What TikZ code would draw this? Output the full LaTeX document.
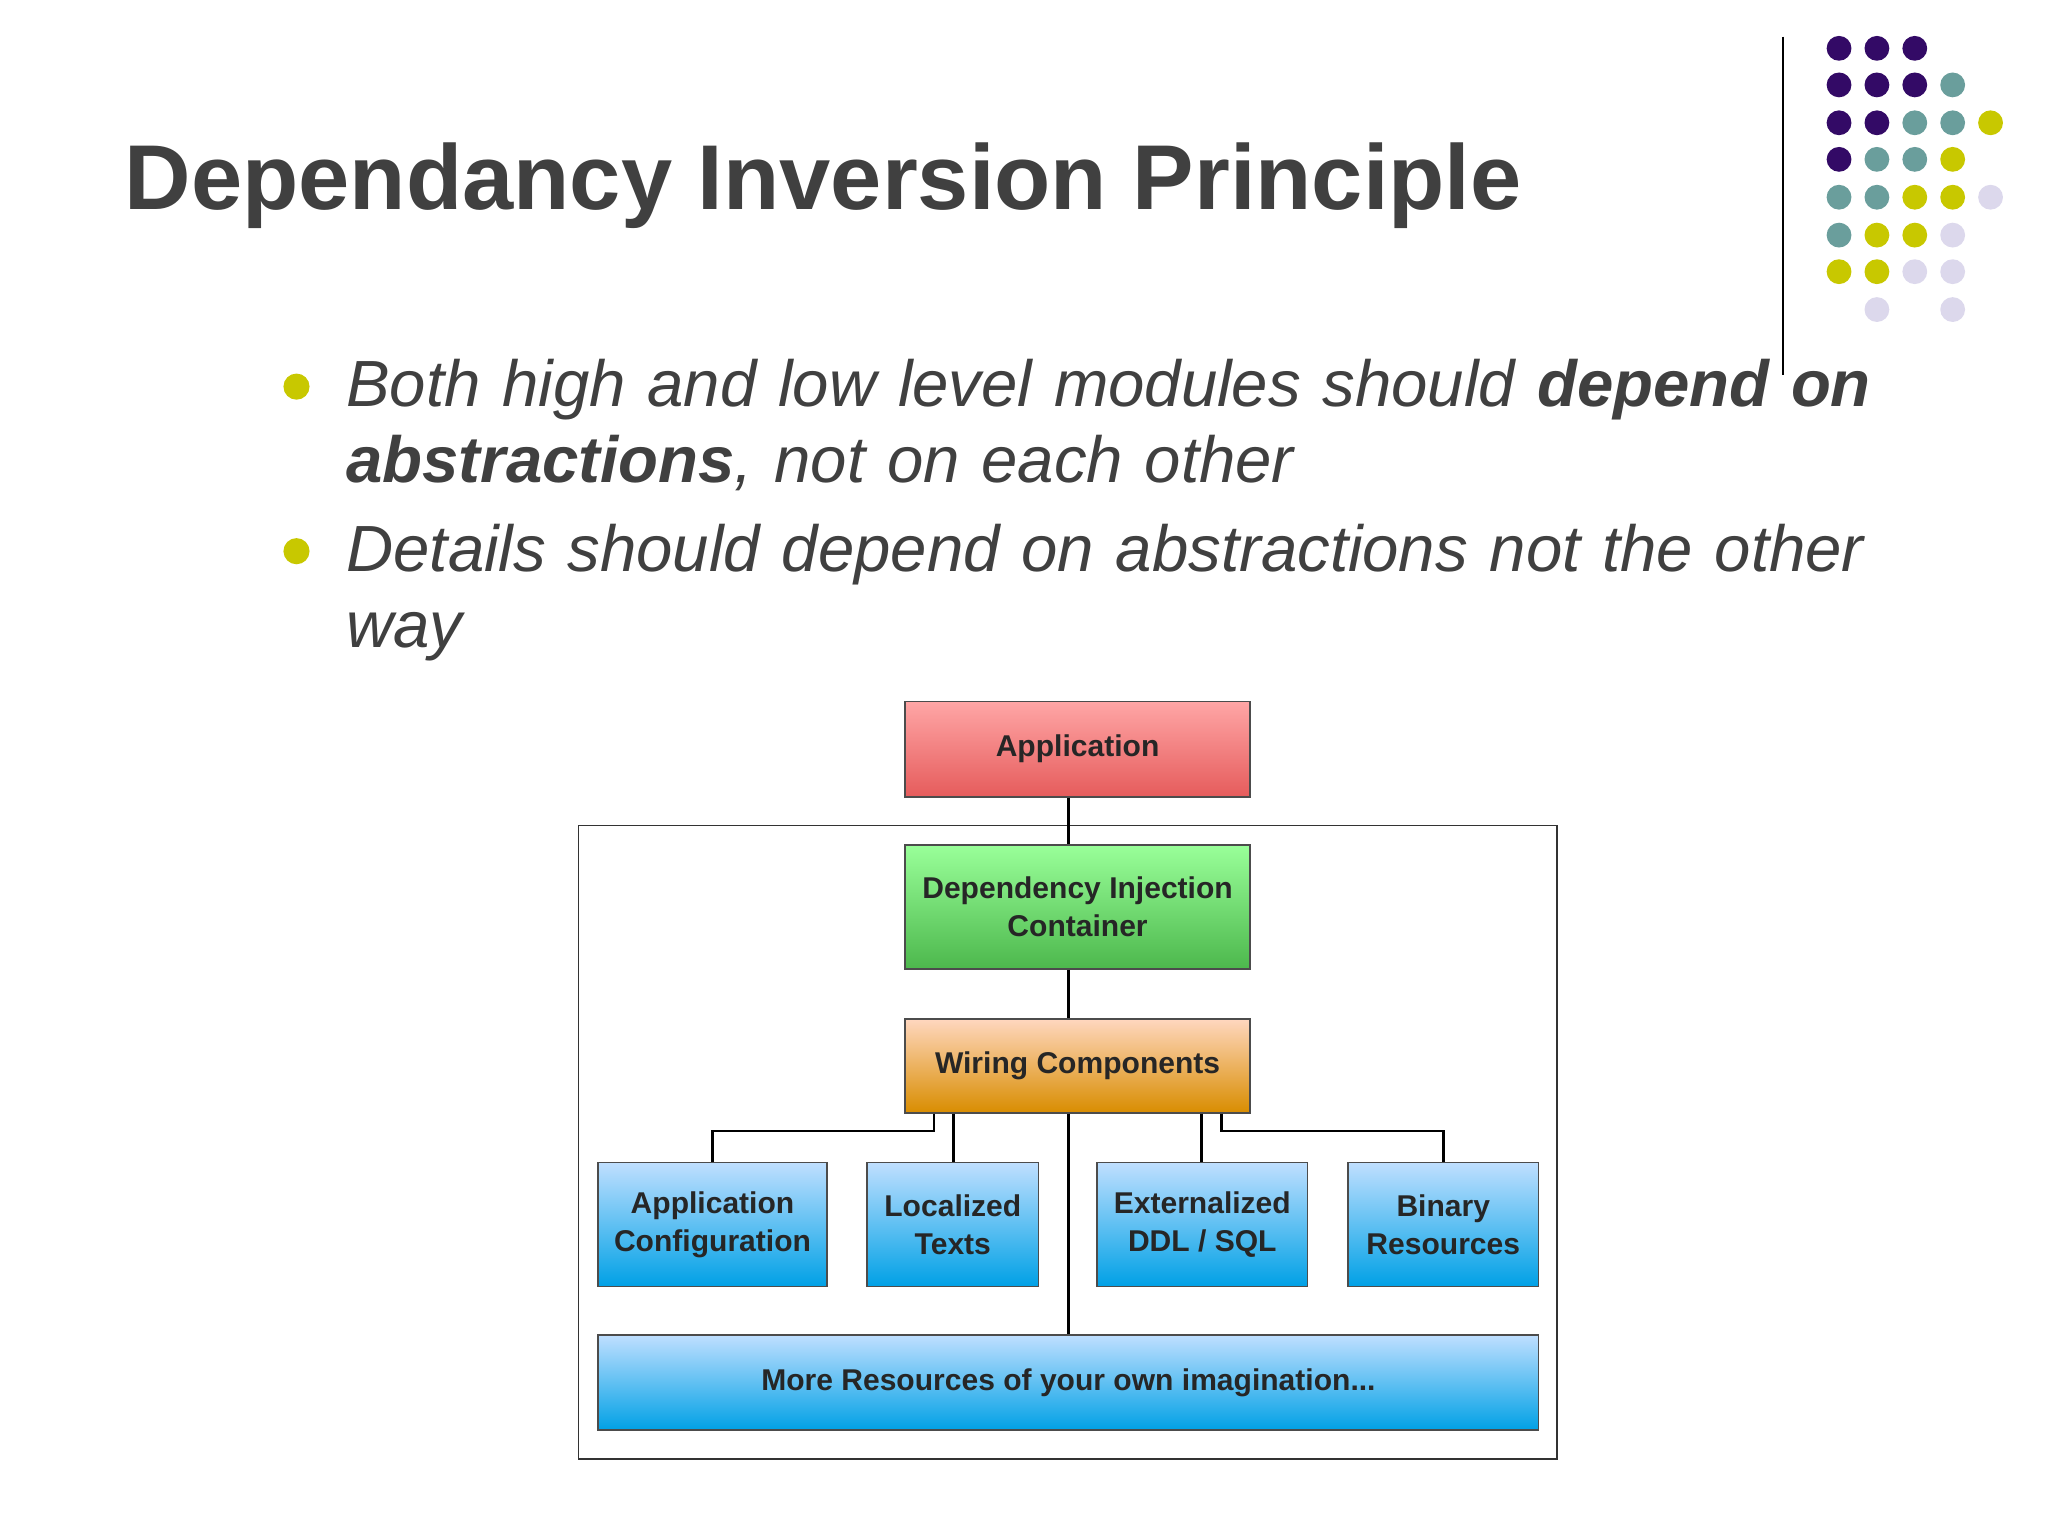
\documentclass[tikz,border=0pt]{standalone}
\usepackage{fontspec}
\setmainfont{Liberation Sans}
\begin{document}
\begin{tikzpicture}[x=1pt,y=-1pt,
  dot/.style={circle,minimum size=19pt,inner sep=0pt},
  bx/.style={draw=black!70,line width=1.2pt,font=\fontsize{23}{29}\selectfont\bfseries,text=black!85,align=center,inner sep=0pt},
  blu/.style={bx,top color=cyan!50!blue!25!white,bottom color=cyan!70!blue!90!black},
  wire/.style={line width=2pt,black}]
\useasboundingbox (0,0) rectangle (1568,1176);
\definecolor{pur}{HTML}{330A66}\definecolor{tea}{HTML}{6A9E9C}
\definecolor{yel}{HTML}{C8C800}\definecolor{lav}{HTML}{DCD8EC}
\definecolor{txt}{HTML}{404040}
% dots
\foreach \x/\y/\c in {1408/37/pur,1437/37/pur,1466/37/pur,
 1408/65/pur,1437/65/pur,1466/65/pur,1495/65/tea,
 1408/94/pur,1437/94/pur,1466/94/tea,1495/94/tea,1524/94/yel,
 1408/122/pur,1437/122/tea,1466/122/tea,1495/122/yel,
 1408/151/tea,1437/151/tea,1466/151/yel,1495/151/yel,1524/151/lav,
 1408/180/tea,1437/180/yel,1466/180/yel,1495/180/lav,
 1408/208/yel,1437/208/yel,1466/208/lav,1495/208/lav,
 1437/237/lav,1495/237/lav}
 \node[dot,fill=\c] (d\x-\y) at (\x,\y) {};
\draw[line width=1.5pt] (1365,28) -- (1365,287);
\node[anchor=west,font=\fontsize{70.5}{76}\selectfont\bfseries,text=txt] (title) at (92,142) {Dependancy Inversion Principle};
\node[dot,fill=yel,minimum size=20pt] (b1) at (227,296) {};
\node[dot,fill=yel,minimum size=20pt] (b2) at (227,422) {};
\node[anchor=north west,text width=1250pt,font=\fontsize{50}{58}\selectfont\itshape,text=txt,inner sep=0pt] (t1) at (265,275)
 {Both high and low level modules should \textbf{depend on abstractions}, not on each other};
\node[anchor=north west,text width=1250pt,font=\fontsize{50}{58}\selectfont\itshape,text=txt,inner sep=0pt] (t2) at (265,401)
 {Details should depend on abstractions not the other way};
% container
\draw[line width=1.3pt,black!80] (443,632) rectangle (1192,1117);
% boxes
\node[bx,top color=red!35!white,bottom color=red!60!white!90!black,minimum width=264pt,minimum height=73pt] (app) at (825,573.5) {Application};
\node[bx,top color=green!40!white,bottom color=green!60!black!70!white,minimum width=264pt,minimum height=95pt] (di) at (825,694.5) {Dependency Injection\\Container};
\node[bx,top color=red!25!orange!25!white,bottom color=orange!70!yellow!85!black,minimum width=264pt,minimum height=72pt] (wc) at (825,816) {Wiring Components};
\foreach \n/\a/\b/\t in {ac/458/633/{Application\\Configuration},lt/664/795/{Localized\\Texts},ex/840/1001/{Externalized\\DDL / SQL},br/1032/1178/{Binary\\Resources}}
 \node[blu,minimum width=\b-\a,minimum height=95pt] (\n) at ({(\a+\b)/2},937.5) {\t};
\node[blu,minimum width=720pt,minimum height=73pt] (mr) at (818,1058.5) {More Resources of your own imagination...};
% wires
\draw[wire] (app.south -| 818,0) -- (di.north -| 818,0);
\draw[wire] (di.south -| 818,0) -- (wc.north -| 818,0);
\draw[wire] (wc.south -| 818,0) -- (mr.north -| 818,0);
\draw[wire] (wc.south -| 715,0) -- (715,866) -| (ac.north);
\draw[wire] (wc.south -| 730,0) -- (lt.north -| 730,0);
\draw[wire] (wc.south -| 920,0) -- (ex.north -| 920,0);
\draw[wire] (wc.south -| 935,0) -- (935,866) -| (br.north);
\end{tikzpicture}
\end{document}
